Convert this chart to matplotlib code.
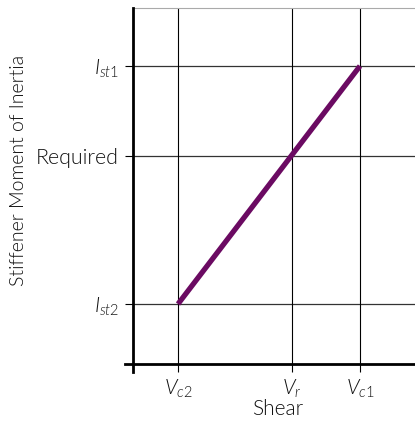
import matplotlib
matplotlib.use("Agg")
import matplotlib.pyplot as plt
from matplotlib.lines import Line2D
from matplotlib import font_manager
from matplotlib.font_manager import FontProperties
import os

def find(basename):
    for f in font_manager.fontManager.ttflist:
        if os.path.basename(f.fname) == basename:
            return f.fname
    return None

light_path = find('Lato-Light.ttf')

plt.rcParams['font.family'] = ['Lato', 'DejaVu Sans']
plt.rcParams['mathtext.fontset'] = 'custom'
try:
    plt.rcParams['mathtext.it'] = 'Lato:italic:weight=300'
    plt.rcParams['mathtext.rm'] = 'Lato:weight=300'
except Exception:
    plt.rcParams['mathtext.it'] = 'Lato:italic'
    plt.rcParams['mathtext.rm'] = 'Lato'

# data (relative units)
x_ticks = [45, 159, 227]
x_labels = [r'$\mathit{V}_{\mathit{c}2}$', r'$\mathit{V}_{\mathit{r}}$', r'$\mathit{V}_{\mathit{c}1}$']
y_ticks = [60, 208, 298]
y_labels = [r'$\mathit{I}_{\mathit{st}2}$', 'Required', r'$\mathit{I}_{\mathit{st}1}$']
line_x = [45, 227]
line_y = [60, 298]
x_max = 282
y_max = 356

W, H = 415, 422
fig = plt.figure(figsize=(W/100, H/100), dpi=100)
ax = fig.add_axes([133/W, (H-364)/H, (415-133)/W, (364-8)/H])
ax.set_xlim(0, x_max)
ax.set_ylim(0, y_max)

ax.plot(line_x, line_y, color='#6b0a62', lw=3.8, solid_capstyle='butt', zorder=5)

ax.set_xticks(x_ticks)
ax.set_xticklabels(x_labels, fontsize=15, color='#111111')
ax.set_yticks(y_ticks)
ax.set_yticklabels(y_labels, fontsize=15, color='#111111')
for lab in ax.get_yticklabels():
    if lab.get_text() == 'Required' and light_path:
        lab.set_fontproperties(FontProperties(fname=light_path, size=15.5))
ax.tick_params(axis='both', direction='out', length=6, width=0.8, color='black', pad=4)
for y in y_ticks:
    ax.axhline(y, color='#333333', lw=0.9, zorder=2)
for x in x_ticks:
    ax.axvline(x, color='black', lw=0.8, zorder=2)

for s in ['left', 'bottom', 'right']:
    ax.spines[s].set_visible(False)
ax.spines['top'].set_color('#aaaaaa')
ax.spines['top'].set_linewidth(0.8)

ax.add_line(Line2D([0, 0], [-8/356, 1], transform=ax.transAxes, color='black', lw=2.0, clip_on=False, zorder=6))
ax.add_line(Line2D([-8/282, 1], [0, 0], transform=ax.transAxes, color='black', lw=2.0, clip_on=False, zorder=6))

kw = dict(fontproperties=FontProperties(fname=light_path)) if light_path else {}
t1 = fig.text(278/W, 1 - 409/H, 'Shear', ha='center', va='center', color='#111111', **kw)
t1.set_fontsize(15)
t2 = fig.text(19/W, 1 - 170/H, 'Stiffener Moment of Inertia', rotation=90,
              ha='center', va='center', color='#111111', **kw)
t2.set_fontsize(14)

fig.savefig('out.png', dpi=100)
